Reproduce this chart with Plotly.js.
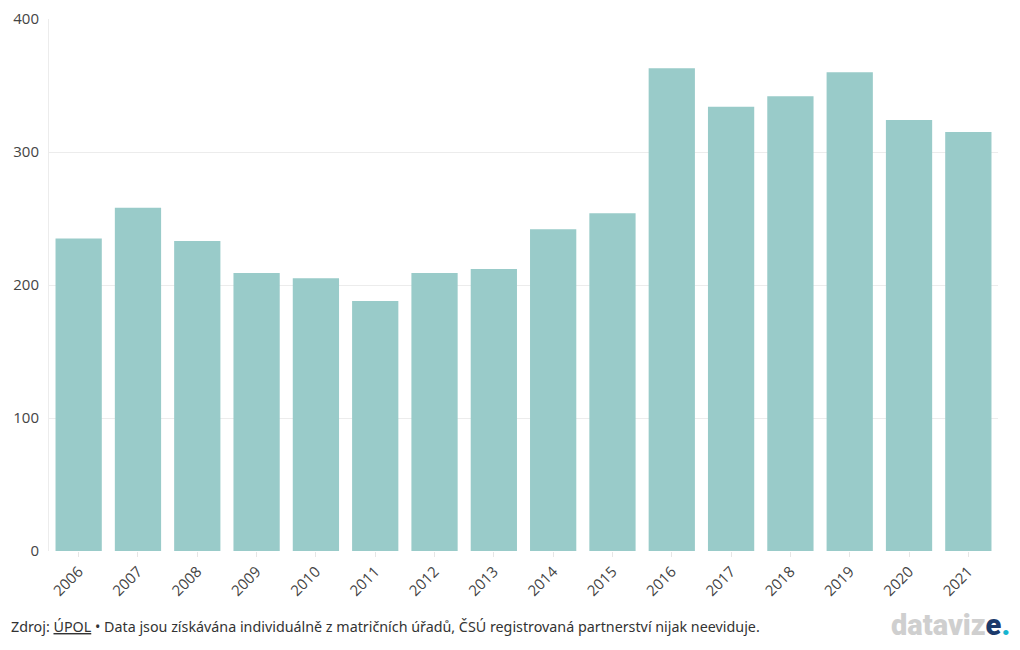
<!DOCTYPE html>
<html><head><meta charset="utf-8">
<script src="https://cdn.plot.ly/plotly-3.0.1.min.js"></script>
<style>html,body{margin:0;padding:0;background:#fff;}#chart{width:1020px;height:650px;}</style>
</head><body><div id="chart"></div>
<script>
const years = ["2006","2007","2008","2009","2010","2011","2012","2013","2014","2015","2016","2017","2018","2019","2020","2021"];
const counts = [235,258,233,209,205,188,209,212,242,254,363,334,342,360,324,315];
const yTicks = [0,100,200,300,400];

const trace = {
  type: 'bar', x: years, y: counts,
  marker: {color: '#99cbc9'},
  hoverinfo: 'x+y'
};
const layout = {
  width: 1020, height: 650,
  margin: {l: 49, r: 22, t: 19, b: 99},
  paper_bgcolor: '#fff', plot_bgcolor: '#fff',
  bargap: 0.22,
  showlegend: false,
  font: {family: 'Open Sans, sans-serif', color: '#444', size: 14},
  xaxis: {
    type: 'category', tickangle: -45, ticks: 'outside', ticklen: 5, tickcolor: '#e6e6e6',
    tickfont: {size: 15, color: '#444'}, showgrid: false, zeroline: false,
    showline: false
  },
  yaxis: {
    range: [0, 400], tickvals: yTicks, ticktext: yTicks.map(String),
    gridcolor: '#ececec', zeroline: false, showline: true, linecolor: '#ececec',
    ticks: 'outside', ticklen: 6, tickcolor: '#fff',
    tickfont: {size: 15, color: '#444'}
  },
  annotations: [
    {xref: 'paper', yref: 'paper', x: -0.042, y: -0.142, xanchor: 'left', yanchor: 'middle', showarrow: false,
     text: 'Zdroj: <span style="text-decoration:underline">ÚPOL</span> • Data jsou získávána individuálně z matričních úřadů, ČSÚ registrovaná partnerství nijak neeviduje.',
     font: {family: 'Noto Sans, sans-serif', size: 14.3, color: '#333'}},
    {xref: 'paper', yref: 'paper', x: 1.015, y: -0.14, xanchor: 'right', yanchor: 'middle', showarrow: false,
     text: '<span style="color:#cfcfcf;font-weight:900">dataviz</span><span style="color:#1b3a6b;font-weight:900">e</span><span style="color:#16b5d0;font-weight:900">.</span>',
     font: {family: 'Roboto, sans-serif', size: 29, color: '#cfcfcf', weight: 900}}
  ]
};
Plotly.newPlot('chart', [trace], layout, {displayModeBar: false, staticPlot: true});
</script></body></html>
